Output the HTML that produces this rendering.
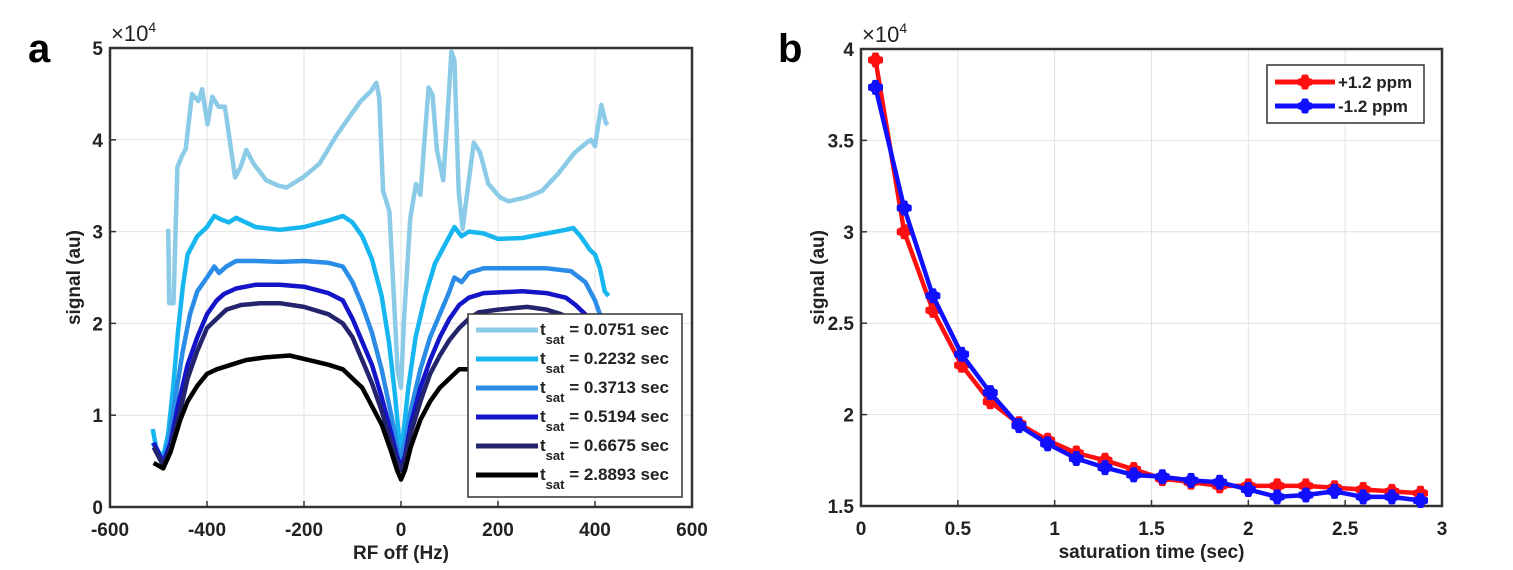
<!DOCTYPE html>
<html><head><meta charset="utf-8"><style>
body{margin:0;background:#fff;}
svg{display:block;font-family:"Liberation Sans",Arial,sans-serif;}
.t{font-size:19px;font-weight:bold;fill:#222;}
</style></head><body>
<svg id="s" width="1513" height="570">
<text x="28" y="62" font-size="40" font-weight="bold">a</text>
<text x="778" y="62" font-size="40" font-weight="bold">b</text>
<g id="ga"></g>
<g id="gb"></g>
</svg>
<script>
// ---- Chart a data ----
const aLabels = ["0.0751","0.2232","0.3713","0.5194","0.6675","2.8893"];
const aColors = ["#8ccbe8","#16b6f0","#2a8ce6","#1414c8","#24246e","#000000"];
const aX0 = [-480,-478,-469,-461,-452,-444,-431,-418,-410,-399,-389,-376,-363,-342,-331,-319,-304,-278,-253,-236,-202,-168,-134,-109,-83,-62,-51,-45,-37,-24,-15,-7,0,6,19,31,40,48,57,65,74,87,95,104,110,119,127,137,150,163,180,205,222,256,290,324,358,383,392,400,413,422,426];
const aY0 = [3.03,2.22,2.22,3.7,3.82,3.9,4.5,4.42,4.55,4.17,4.47,4.36,4.36,3.59,3.7,3.89,3.74,3.56,3.5,3.48,3.59,3.74,4.04,4.23,4.42,4.53,4.62,4.46,3.44,3.22,2.32,1.49,1.3,2.02,3.14,3.52,3.4,3.97,4.57,4.49,3.89,3.56,4.19,4.96,4.87,3.44,3.03,3.44,3.97,3.86,3.52,3.37,3.33,3.37,3.44,3.63,3.86,3.97,4.0,3.93,4.38,4.19,4.16];
const aX1 = [-512,-505,-500,-490,-480,-470,-460,-450,-440,-420,-400,-385,-370,-355,-340,-320,-300,-250,-200,-150,-120,-100,-80,-60,-40,-25,-12,-5,0,5,15,30,50,70,90,110,125,140,170,200,250,300,340,355,370,390,400,410,420,428];
const aY1 = [0.85,0.65,0.6,0.55,0.8,1.3,1.9,2.4,2.75,2.95,3.05,3.17,3.13,3.1,3.15,3.1,3.05,3.02,3.05,3.12,3.17,3.1,2.95,2.7,2.3,1.8,1.2,0.8,0.65,0.8,1.3,1.85,2.3,2.65,2.85,3.05,2.95,3.0,2.98,2.92,2.93,2.98,3.02,3.04,2.95,2.8,2.75,2.6,2.35,2.3];
const aX2 = [-512,-490,-480,-465,-450,-435,-420,-400,-385,-375,-360,-340,-300,-250,-200,-150,-120,-100,-80,-60,-40,-20,-8,0,8,20,40,60,80,100,110,125,140,170,250,300,350,380,400,410,418];
const aY2 = [0.7,0.5,0.7,1.2,1.7,2.1,2.35,2.5,2.62,2.55,2.62,2.68,2.68,2.67,2.68,2.66,2.62,2.45,2.2,1.9,1.5,1.0,0.65,0.55,0.7,1.05,1.5,1.85,2.1,2.35,2.5,2.45,2.55,2.6,2.6,2.6,2.57,2.45,2.25,2.1,2.05];
const aX3 = [-510,-490,-475,-460,-440,-420,-400,-380,-365,-340,-300,-250,-200,-150,-120,-100,-80,-60,-40,-20,-8,0,8,20,40,60,80,100,120,140,170,250,300,340,360,380,395];
const aY3 = [0.7,0.48,0.7,1.1,1.55,1.85,2.1,2.25,2.32,2.38,2.42,2.42,2.4,2.33,2.25,2.05,1.8,1.55,1.2,0.8,0.55,0.45,0.55,0.9,1.3,1.6,1.85,2.05,2.2,2.28,2.33,2.35,2.33,2.28,2.2,2.1,2.0];
const aX4 = [-510,-490,-475,-455,-440,-420,-400,-380,-360,-330,-290,-250,-200,-150,-120,-100,-80,-60,-40,-20,-8,0,8,20,40,60,80,100,120,140,160,200,260,300,330,350];
const aY4 = [0.65,0.45,0.65,1.05,1.4,1.7,1.95,2.05,2.15,2.2,2.22,2.22,2.18,2.1,2.0,1.85,1.6,1.35,1.05,0.7,0.5,0.4,0.5,0.8,1.15,1.45,1.65,1.82,1.95,2.05,2.12,2.15,2.18,2.15,2.1,2.05];
const aX5 = [-510,-490,-475,-455,-440,-420,-400,-380,-350,-320,-280,-230,-190,-150,-120,-100,-80,-60,-40,-20,-8,0,8,20,40,60,80,100,120,140,150];
const aY5 = [0.48,0.42,0.6,0.95,1.15,1.32,1.45,1.5,1.55,1.6,1.63,1.65,1.6,1.55,1.5,1.4,1.3,1.1,0.9,0.6,0.4,0.3,0.4,0.65,0.95,1.15,1.3,1.4,1.5,1.5,1.55];
const aXs=[aX0,aX1,aX2,aX3,aX4,aX5], aYs=[aY0,aY1,aY2,aY3,aY4,aY5];
const aXTicks=[-600,-400,-200,0,200,400,600], aYTicks=[0,1,2,3,4,5];
// ---- Chart b data ----
const bX = [0.0751,0.2232,0.3713,0.5194,0.6675,0.8156,0.9637,1.1118,1.2599,1.408,1.556,1.704,1.852,2.0,2.149,2.297,2.445,2.593,2.741,2.889];
const bRed = [3.94,3.00,2.57,2.27,2.07,1.95,1.86,1.79,1.75,1.70,1.65,1.63,1.61,1.61,1.61,1.61,1.60,1.59,1.58,1.57];
const bBlue = [3.79,3.13,2.65,2.33,2.12,1.94,1.84,1.76,1.71,1.67,1.66,1.64,1.63,1.59,1.55,1.56,1.58,1.55,1.55,1.53];
const bXTicks=[0,0.5,1,1.5,2,2.5,3], bYTicks=[1.5,2,2.5,3,3.5,4];

const NS="http://www.w3.org/2000/svg";
function mk(p,tag,at,txt){const e=document.createElementNS(NS,tag);for(const k in at)e.setAttribute(k,at[k]);if(txt!==undefined)e.textContent=txt;p.appendChild(e);return e;}

function axes(g,L,R,T,B,xs,ys,xTicks,yTicks,fmtY,xlab,ylab,ylabX){
  for(const v of xTicks){const x=xs(v);
    if(x>L+1&&x<R-1){const gl=mk(g,'line',{x1:x,x2:x,y1:T,y2:B,stroke:'#e2e2e2','stroke-width':1});
    
    }
    const tk=mk(g,'line',{x1:x,x2:x,y1:B,y2:B-6,stroke:'#333','stroke-width':1.5});
    
    
    const tl=mk(g,'text',{x:x,y:B+29,'text-anchor':'middle',class:'t'},String(v));
    
    }
  for(const v of yTicks){const y=ys(v);
    if(y>T+1&&y<B-1){const gl=mk(g,'line',{x1:L,x2:R,y1:y,y2:y,stroke:'#e2e2e2','stroke-width':1});
    
    }
    const tk=mk(g,'line',{x1:L,x2:L+6,y1:y,y2:y,stroke:'#333','stroke-width':1.5});
    
    
    const tl=mk(g,'text',{x:L-7,y:y+7,'text-anchor':'end',class:'t'},fmtY(v));
    
    }
  const bx=mk(g,'rect',{x:L,y:T,width:R-L,height:B-T,fill:'none',stroke:'#333','stroke-width':2.5});
  
  
  const ex=mk(g,'text',{x:L+1,y:T-7,'font-size':22,fill:'#222'},'×10');
  
  
  mk(ex,'tspan',{'font-size':14,dy:-9},'4');
  const xl=mk(g,'text',{x:(L+R)/2,y:B+52,'text-anchor':'middle','font-size':19,'font-weight':'bold',fill:'#222'},xlab);
  
  
  const cy=(T+B)/2;
  const yl=mk(g,'text',{x:ylabX,y:cy,'text-anchor':'middle','font-size':19,'font-weight':'bold',fill:'#222',transform:`rotate(-90 ${ylabX} ${cy})`},ylab);
  
  
}

// Chart a
(function(){
  const g=document.getElementById('ga');
  const L=110,R=692,T=48,B=507;
  const xs=v=>L+(v+600)/1200*(R-L), ys=v=>B-v/5*(B-T);
  axes(g,L,R,T,B,xs,ys,aXTicks,aYTicks,v=>String(v),'RF off (Hz)','signal (au)',80);
  for(let i=0;i<6;i++){
    const pts=aXs[i].map((x,j)=>xs(x).toFixed(1)+','+ys(aYs[i][j]).toFixed(1)).join(' ');
    const pl=mk(g,'polyline',{points:pts,fill:'none',stroke:aColors[i],'stroke-width':4.5,'stroke-linejoin':'round'});
    
    
  }
  const lg=mk(g,'g',{});
  
  
  mk(lg,'rect',{x:468,y:314,width:214,height:183,fill:'#fff',stroke:'#333','stroke-width':1.5});
  for(let i=0;i<6;i++){
    const y=330+i*29;
    const e=mk(lg,'g',{});
    
    
    mk(e,'line',{x1:476,x2:538,y1:y,y2:y,stroke:aColors[i],'stroke-width':5});
    const t=mk(e,'text',{x:540,y:y+5,'font-size':17,'font-weight':'bold',fill:'#222'},'t');
    mk(t,'tspan',{'font-size':13,dy:9},'sat');
    mk(t,'tspan',{dy:-9},' = '+aLabels[i]+' sec');
  }
})();

// Chart b
(function(){
  const g=document.getElementById('gb');
  const L=861,R=1442,T=49,B=506;
  const xs=v=>L+v/3*(R-L), ys=v=>B-(v-1.5)/2.5*(B-T);
  axes(g,L,R,T,B,xs,ys,bXTicks,bYTicks,v=>String(v),'saturation time (sec)','signal (au)',824);
  function series(vals,col,name){
    const s=mk(g,'g',{});
    
    
    mk(s,'polyline',{points:bX.map((x,j)=>xs(x).toFixed(1)+','+ys(vals[j]).toFixed(1)).join(' '),fill:'none',stroke:col,'stroke-width':4.5,'stroke-linejoin':'round'});
    bX.forEach((x,j)=>{marker(s,xs(x),ys(vals[j]),col);});
  }
  function marker(p,x,y,col){
    const m=mk(p,'g',{});
    
    
    mk(m,'circle',{cx:x,cy:y,r:6,fill:col});
    mk(m,'rect',{x:x-7.5,y:y-3.5,width:15,height:7,rx:2,fill:col});
    mk(m,'rect',{x:x-3.5,y:y-7.5,width:7,height:15,rx:2,fill:col});
  }
  series(bRed,'#ff1010','series-plus-1.2-ppm');
  series(bBlue,'#1010ff','series-minus-1.2-ppm');
  const lg=mk(g,'g',{});
  
  
  mk(lg,'rect',{x:1267,y:65,width:157,height:58,fill:'#fff',stroke:'#333','stroke-width':1.5});
  [['+1.2 ppm','#ff1010',82],['-1.2 ppm','#1010ff',106]].forEach(([t,c,y])=>{
    const e=mk(lg,'g',{});
    
    
    mk(e,'line',{x1:1275,x2:1335,y1:y,y2:y,stroke:c,'stroke-width':5});
    marker(e,1305,y,c);
    mk(e,'text',{x:1338,y:y+6,'font-size':17,'font-weight':'bold',fill:'#222'},t);
  });
})();
</script>
</body></html>
